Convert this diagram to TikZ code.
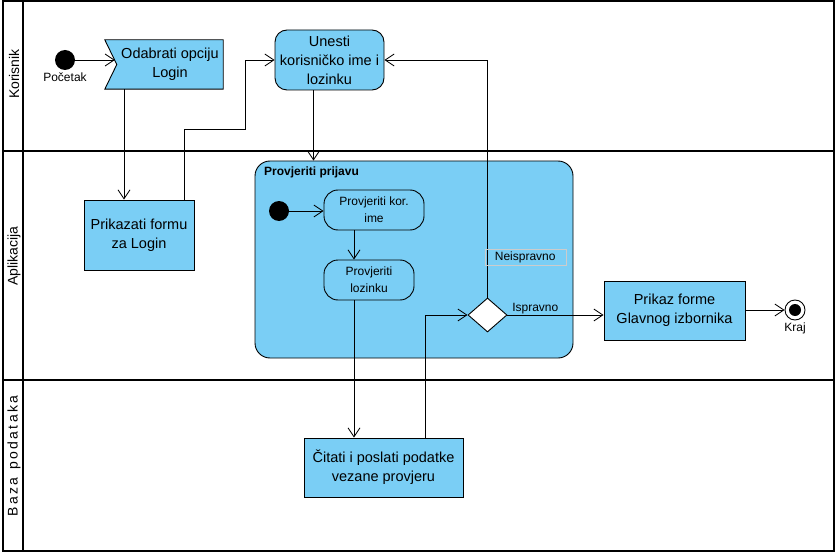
\documentclass[tikz,border=0pt]{standalone}
\usepackage{xcolor}
\usepackage{fontspec}
\setmainfont{Liberation Sans}
\usetikzlibrary{arrows.meta,shapes.geometric,backgrounds}

\definecolor{akcija}{RGB}{122,206,245}

\begin{document}
\begin{tikzpicture}[x=1pt,y=-1pt,
    lane/.style={line width=1.6pt},
    box/.style={draw,line width=0.9pt,fill=akcija,align=center,inner sep=2pt,font=\fontsize{14.5}{19}\selectfont},
    mali/.style={draw,line width=0.9pt,rounded corners=14pt,align=center,inner sep=1pt,font=\fontsize{12}{17}\selectfont},
    flow/.style={line width=0.8pt,-{Straight Barb[length=9pt,width=12pt,line width=0.8pt]}},
    oznaka/.style={font=\fontsize{12}{14}\selectfont,inner sep=1pt}]
    \useasboundingbox (0,0) rectangle (840,556);
    % plivaće staze
    \draw[lane] (3,1) rectangle (834,551);
    \draw[lane] (23,1) -- (23,551);
    \draw[lane] (3,151) -- (834,151);
    \draw[lane] (3,380) -- (834,380);
    \node[rotate=90,font=\fontsize{14}{16}\selectfont] (korisnik) at (14,74) {Korisnik};
    \node[rotate=90,font=\fontsize{14}{16}\selectfont] (aplikacija) at (14,256) {Aplikacija};
    \node[rotate=90,font=\fontsize{14}{16}\selectfont] (baza) at (14,456) {B\,a\,z\,a\ \ p\,o\,d\,a\,t\,a\,k\,a};
    % korisnik
    \node[circle,fill=black,minimum size=20pt,inner sep=0pt] (pocetak) at (65,60) {};
    \node[oznaka,below=1pt] (pocetakTxt) at (pocetak.south) {Početak};
    \node[align=center,inner sep=0pt,font=\fontsize{14.5}{19}\selectfont,
          minimum width=106pt,minimum height=49pt] (odabrati) at (170,64.5) {Odabrati opciju\\Login};
    \begin{scope}[on background layer]
    \draw[line width=0.9pt,fill=akcija] (odabrati.north east) -- (odabrati.south east)
        -- ([xshift=-12pt]odabrati.south west) -- (odabrati.west)
        -- ([xshift=-12pt]odabrati.north west) -- cycle;
    \end{scope}
    \node[box,rounded corners=12pt,minimum width=109pt,minimum height=60pt] (unesti) at (329.5,60) {Unesti\\korisničko ime i\\lozinku};
    % aplikacija
    \node[box,minimum width=110pt,minimum height=70pt] (prikazati) at (139,235) {Prikazati formu\\za Login};
    \node[draw,line width=0.9pt,fill=akcija,rounded corners=15pt,minimum width=318pt,minimum height=197pt] (prijava) at (414,259.5) {};
    \node[anchor=north west,font=\bfseries\fontsize{12}{14}\selectfont,inner sep=0pt] (prijavaTxt) at (264,167) {Provjeriti prijavu};
    \node[circle,fill=black,minimum size=20pt,inner sep=0pt] (pocetak2) at (279,211) {};
    \node[mali,minimum width=100pt,minimum height=40pt] (korime) at (374,210) {Provjeriti kor.\\ime};
    \node[mali,minimum width=90pt,minimum height=40pt] (lozinka) at (369,280) {Provjeriti\\lozinku};
    \node[diamond,draw,line width=0.9pt,fill=white,minimum width=39pt,minimum height=34pt,inner sep=0pt] (odluka) at (487.5,315) {};
    \node[box,minimum width=141pt,minimum height=59pt] (glavni) at (674.5,310.5) {Prikaz forme\\Glavnog izbornika};
    \node[circle,draw,line width=0.9pt,minimum size=20pt,inner sep=0pt,
          path picture={\fill (path picture bounding box.center) circle (6pt);}] (kraj) at (795,310) {};
    \node[oznaka,below=1pt] (krajTxt) at (kraj.south) {Kraj};
    % baza podataka
    \node[box,minimum width=159pt,minimum height=59pt] (citati) at (383.5,467.5) {Čitati i poslati podatke\\vezane provjeru};
    % tokovi
    \draw[flow] (pocetak) -- ([xshift=-2pt]odabrati.west |- pocetak);
    \draw[flow] ([xshift=-46pt]odabrati.south) -- ([xshift=-15pt]prikazati.north);
    \draw[flow] ([xshift=45pt]prikazati.north) -- ++(0,-70) -- ++(61,0) |- (unesti.west);
    \draw[flow] ([xshift=-16pt]unesti.south) -- ([xshift=-16pt]unesti.south |- prijava.north);
    \draw[flow] (pocetak2) -- (pocetak2 -| korime.west);
    \draw[flow] ([xshift=-20pt]korime.south) -- ([xshift=-15pt]lozinka.north);
    \draw[flow] ([xshift=-15pt]lozinka.south) -- ([xshift=-15pt]lozinka.south |- citati.north);
    \draw[flow] ([xshift=41.5pt]citati.north) |- (odluka.west);
    \draw[flow] (odluka.north) |- (unesti.east)
        node[pos=0.084,anchor=west,draw=gray!40,line width=0.5pt,font=\fontsize{12}{14}\selectfont,
             minimum width=81pt,minimum height=16pt,inner sep=1pt,xshift=-3pt] (neispravno) {Neispravno};
    \draw[flow] (odluka.east) -- (glavni.west |- odluka.east)
        node[pos=0.29,above,oznaka] (ispravno) {Ispravno};
    \draw[flow] (glavni.east |- kraj) -- (kraj.west);
\end{tikzpicture}
\end{document}
